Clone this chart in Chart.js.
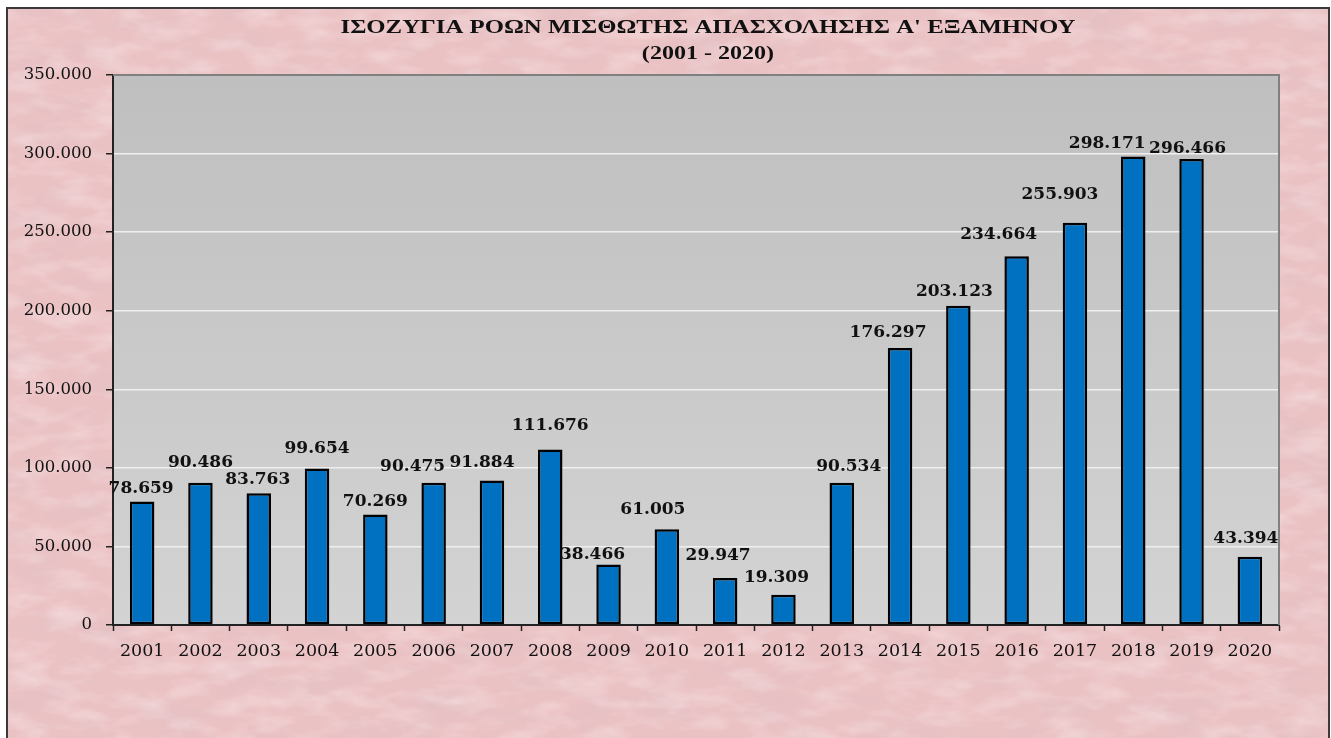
<!DOCTYPE html>
<html>
<head>
<meta charset="utf-8">
<script src="https://cdn.jsdelivr.net/npm/chart.js@4/dist/chart.umd.min.js"></script>
<style>
  html, body { margin: 0; padding: 0; background: #fff; overflow: hidden; }
  #frame {
    position: absolute; left: 6px; top: 7px; width: 1324px; height: 740px;
    box-sizing: border-box; border: 2px solid #3a3a3a; background: #ebc2c4; overflow: hidden;
  }
  #tex { position: absolute; left: 0; top: 0; }
  #wrap { position: absolute; left: 0; top: 0; width: 1320px; height: 729px; }
</style>
</head>
<body>
<div id="frame">
  <!-- mottled paper texture -->
  <svg id="tex" width="1320" height="736" xmlns="http://www.w3.org/2000/svg">
    <filter id="dark" x="0" y="0" width="100%" height="100%">
      <feTurbulence type="fractalNoise" baseFrequency="0.015 0.035" numOctaves="4" seed="7"/>
      <feColorMatrix type="matrix" values="0 0 0 0 0.72  0 0 0 0 0.52  0 0 0 0 0.55  0.9 0 0 0 -0.38"/>
    </filter>
    <filter id="light" x="0" y="0" width="100%" height="100%">
      <feTurbulence type="fractalNoise" baseFrequency="0.025 0.06" numOctaves="3" seed="21"/>
      <feColorMatrix type="matrix" values="0 0 0 0 0.97  0 0 0 0 0.85  0 0 0 0 0.86  0.9 0 0 0 -0.38"/>
    </filter>
    <rect width="1320" height="736" filter="url(#dark)"/>
    <rect width="1320" height="736" filter="url(#light)"/>
  </svg>
  <div id="wrap"><canvas id="chart" width="1320" height="729"></canvas></div>
</div>
<script>
// Data
const years = ["2001", "2002", "2003", "2004", "2005", "2006", "2007", "2008", "2009", "2010",
               "2011", "2012", "2013", "2014", "2015", "2016", "2017", "2018", "2019", "2020"];
const balance = [78659, 90486, 83763, 99654, 70269, 90475, 91884, 111676, 38466, 61005,
                 29947, 19309, 90534, 176297, 203123, 234664, 255903, 298171, 296466, 43394];
const titleLines = ["ΙΣΟΖΥΓΙΑ ΡΟΩΝ ΜΙΣΘΩΤΗΣ ΑΠΑΣΧΟΛΗΣΗΣ Α' ΕΞΑΜΗΝΟΥ", "(2001 - 2020)"];
const yMax = 350000;
const yStep = 50000;

// label placement in the original (hand-moved there): px above bar top, px sideways
const labelLift  = [13, 20, 14, 20, 13, 16, 18, 24, 10, 20,
                    22, 17, 16, 15, 14, 22, 28, 13, 11, 18];
const labelShift = [-1, 0, -1, 0, 0, -21, -10, 0, -16, -14,
                    -7, -7, 7, -12, -4, -18, -15, -26, -4, -4];

// 350000 -> "350.000"
const fmt = v => String(v).replace(/\B(?=(\d{3})+(?!\d))/g, ".");

// grey gradient behind the bars + grey frame on top / right
const plotBg = {
    id: "plotBg",
    beforeDraw(chart) {
        const { ctx, chartArea: a } = chart;
        const g = ctx.createLinearGradient(0, a.top, 0, a.bottom);
        g.addColorStop(0, "#bfbfbf");
        g.addColorStop(1, "#d3d3d3");
        ctx.save();
        ctx.fillStyle = g;
        ctx.fillRect(a.left, a.top, a.right - a.left, a.bottom - a.top);
        ctx.restore();
    },
    afterDraw(chart) {
        const { ctx, chartArea: a } = chart;
        ctx.save();
        ctx.strokeStyle = "#808080";
        ctx.lineWidth = 2;
        ctx.beginPath();
        ctx.moveTo(a.left, a.top);
        ctx.lineTo(a.right, a.top);
        ctx.lineTo(a.right, a.bottom);
        ctx.stroke();
        ctx.restore();
    }
};

// value labels above each bar
const barLabels = {
    id: "barLabels",
    afterDatasetsDraw(chart) {
        const { ctx } = chart;
        const meta = chart.getDatasetMeta(0);
        ctx.save();
        ctx.font = "bold 17px 'DejaVu Serif'";
        ctx.fillStyle = "#111";
        ctx.textAlign = "center";
        ctx.textBaseline = "middle";
        meta.data.forEach((bar, i) => {
            ctx.fillText(fmt(balance[i]), bar.x + labelShift[i], bar.y - labelLift[i]);
        });
        ctx.restore();
    }
};

// two-line title, stretched wide like the original
const wideTitle = {
    id: "wideTitle",
    afterDraw(chart) {
        const { ctx } = chart;
        ctx.save();
        ctx.font = "bold 18.5px 'Liberation Serif'";
        ctx.fillStyle = "#111";
        ctx.textAlign = "center";
        ctx.textBaseline = "middle";
        [[19, 1.34], [45, 1.3]].forEach(([y, sx], i) => {
            ctx.save();
            ctx.translate(700, y);
            ctx.scale(sx, 1);
            ctx.fillText(titleLines[i], 0, 0);
            ctx.restore();
        });
        ctx.restore();
    }
};

new Chart(document.getElementById("chart"), {
    type: "bar",
    data: {
        labels: years,
        datasets: [{
            data: balance,
            backgroundColor: "#0070c0",
            borderColor: "#000",
            borderWidth: 2.5,
            borderSkipped: false,
            categoryPercentage: 1,
            barPercentage: 0.42
        }]
    },
    options: {
        responsive: false,
        animation: false,
        layout: { padding: { left: 0, right: 49, top: 66, bottom: 63 } },
        plugins: { legend: { display: false }, tooltip: { enabled: false } },
        scales: {
            x: {
                grid: { display: true, drawOnChartArea: false, tickLength: 6, tickColor: "#222", tickWidth: 1.5 },
                border: { color: "#222", width: 2 },
                ticks: { color: "#111", font: { family: "DejaVu Serif", size: 17.5 }, padding: 10, maxRotation: 0 },
                afterFit(scale) { scale.height = 50; }
            },
            y: {
                min: 0,
                max: yMax,
                grid: { color: "#efefef", lineWidth: 1.5, tickLength: 7, tickColor: "#222", tickWidth: 1.5 },
                border: { color: "#222", width: 2 },
                ticks: {
                    stepSize: yStep,
                    color: "#111",
                    font: { family: "DejaVu Serif", size: 16.5 },
                    padding: 14,
                    callback: v => fmt(v)
                },
                afterFit(scale) { scale.width = 105; }
            }
        }
    },
    plugins: [plotBg, barLabels, wideTitle]
});
</script>
</body>
</html>
